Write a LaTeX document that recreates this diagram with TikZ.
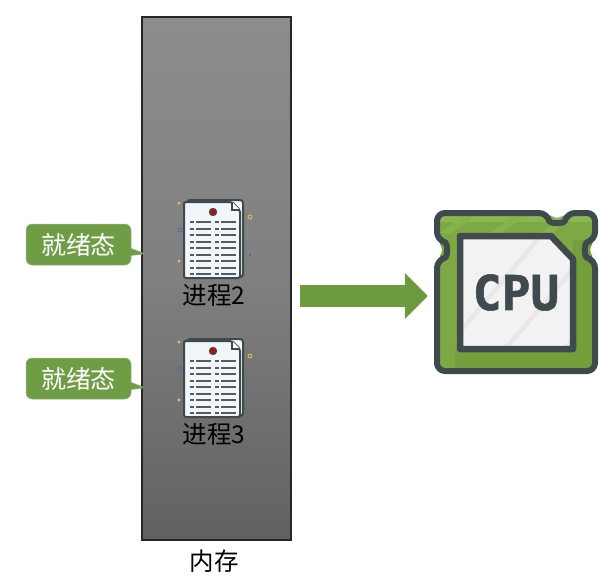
\documentclass[tikz,border=0pt]{standalone}
\usepackage{fontspec}
\setmainfont{Noto Sans CJK SC}
\newfontfamily\cpufont[BoldFont={DejaVu Sans Mono Bold},BoldFeatures={FakeBold=1.2}]{DejaVu Sans Mono}
\usetikzlibrary{positioning,arrows.meta,shapes.callouts}
\definecolor{leafgreen}{HTML}{6F9D45}
\definecolor{chipgreen}{HTML}{7EA843}
\definecolor{chipdark}{HTML}{73A03C}
\definecolor{chiplight}{HTML}{8DB652}
\definecolor{iconline}{HTML}{3F4A4F}
\definecolor{arrowgreen}{HTML}{6B9A3F}
\definecolor{paperwhite}{HTML}{F2F6FA}
\tikzset{
  statebox/.style={rectangle callout,rounded corners=6pt,fill=leafgreen,draw=leafgreen!70!white,
    line width=.5pt,minimum width=105pt,minimum height=41pt,inner sep=0pt,
    text=white,font=\fontsize{25}{25}\selectfont},
  proclabel/.style={inner sep=0pt,font=\fontsize{24.5}{25}\selectfont},
  docline/.style={line width=2pt,draw=iconline!90},
  sparkdot/.style={line width=.8pt},
  pics/docicon/.style={code={
    \draw[line width=2pt,draw=iconline,fill=paperwhite,rounded corners=3pt] (4,1) -- (60,1) -- (60,78) -- (4,78) -- cycle;
    \draw[line width=2pt,draw=iconline,fill=paperwhite,rounded corners=2pt] (1,3) -- (49,3) -- (57,11) -- (57,79) -- (1,79) -- cycle;
    \draw[line width=1.2pt,draw=iconline,fill=white] (49,3) -- (49,11) -- (57,11);
    \fill[iconline] (30,13) circle (4.2);
    \fill[red!70!black!90!orange] (30,13) circle (2.8);
    \foreach \row in {0,...,8} {
      \draw[docline] (7,23+6.5*\row) -- (11,23+6.5*\row) (13,23+6.5*\row) -- (28,23+6.5*\row);
      \draw[docline] (32,23+6.5*\row) -- (36,23+6.5*\row) (38,23+6.5*\row) -- (53,23+6.5*\row);
    }
    \fill[yellow!60!gray] (-4,4) circle (1.6);
    \fill[yellow!60!gray] (-4,62) circle (1.6);
    \draw[sparkdot,draw=yellow!60!gray] (67,18) circle (2);
    \draw[sparkdot,draw=blue!25!gray] (-3,31) circle (2);
    \fill[blue!25!gray] (67,56) circle (1.4);
  }},
}

\begin{document}
\begin{tikzpicture}[x=1pt,y=-1pt]
\useasboundingbox (0,0) rectangle (616,583);

% memory column
\node[draw=black!85,line width=1.1pt,minimum width=149pt,minimum height=523pt,inner sep=0pt,
  top color=black!45,bottom color=black!62,middle color=black!50] (mem) at (216.5,278.5) {};
\node[proclabel,below=9pt of mem,xshift=-2.5pt] (memlabel) {内存};

% processes
\pic at (183,199) {docicon};
\pic at (183,338) {docicon};
\node[proclabel] (proc2) at (214,295) {进程2};
\node[proclabel] (proc3) at (214,434) {进程3};

% state labels
\node[statebox,callout absolute pointer={(146,254)}] (ready2) at (78.5,244.5) {就绪态};
\node[statebox,callout absolute pointer={(146,388)}] (ready3) at (78.5,378.5) {就绪态};

% cpu icon
\node[minimum size=164pt,inner sep=0pt] (cpu) at (516,292) {};
\begin{scope}
  \clip[rounded corners=8pt] (437,213) -- (548,213) -- (557,221) -- (566,213) -- (595,213) -- (595,241) -- (587,250) -- (595,259)
    -- (595,371) -- (437,371) -- (437,259) -- (445,250) -- (437,241) -- cycle;
  \fill[chipgreen] (430,205) rectangle (602,378);
  \fill[chiplight] (430,205) rectangle (602,222);
  \fill[chipdark] (602,240) -- (602,378) -- (455,378) -- (455,349) -- (573,349) -- (573,240) -- cycle;
  \foreach \shift in {0,50,100} {
    \fill[chiplight!70!chipgreen] (440+\shift,233) -- (452+\shift,233) -- (490+\shift,205) -- (478+\shift,205) -- cycle;
  }
\end{scope}
\draw[line width=6pt,draw=iconline,line join=round] [rounded corners=8pt] (437,213) -- (547,213) .. controls (550,224) and (564,224) .. (567,213) -- (595,213) -- (595,240) .. controls (584,243) and (584,257) .. (595,260)
  -- (595,371) -- (437,371) -- (437,260) .. controls (448,257) and (448,243) .. (437,240) -- cycle;
\fill[black!5] (460,236) -- (551,236) -- (573,259) -- (573,349) -- (460,349) -- cycle;
\begin{scope}
  \clip (460,236) -- (551,236) -- (573,259) -- (573,349) -- (460,349) -- cycle;
  \foreach \shift in {0,60,120} {
    \fill[black!9] (440+\shift,352) -- (446+\shift,352) -- (546+\shift,233) -- (540+\shift,233) -- cycle;
  }
\end{scope}
\draw[line width=6.5pt,draw=iconline,line join=round] (460,236) -- (551,236) -- (573,259) -- (573,349) -- (460,349) -- cycle;
\node[inner sep=0pt,text=iconline,font=\fontsize{48}{48}\cpufont\bfseries] (cpulabel) at (516,292.5) {CPU};

% arrow to the cpu
\coordinate (arrowstart) at (300,296);
\draw[line width=22pt,draw=arrowgreen,-{Triangle[length=23pt,width=45pt]},fill=arrowgreen,shorten >=6pt] (arrowstart) -- (cpu.west |- arrowstart);
\end{tikzpicture}
\end{document}
